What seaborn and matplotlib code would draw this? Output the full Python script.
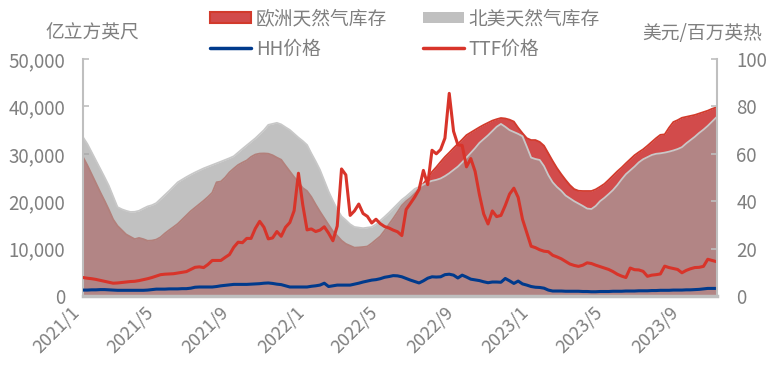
import numpy as np
import pandas as pd
import matplotlib
matplotlib.use('Agg')
import matplotlib.pyplot as plt
from matplotlib.patches import Patch
from matplotlib.lines import Line2D
from matplotlib.ticker import FuncFormatter
from matplotlib.transforms import ScaledTranslation
import seaborn as sns

# weekly data, 2021/1 - 2023/10
start_date = '2021-01-01'

# 欧洲天然气库存 (亿立方英尺)
eu_storage = [29300, 27600, 25700, 23800, 21900, 20100, 18200, 16150, 14800, 13900,
              13000, 12500, 12000, 12250, 12000, 11650, 11700, 11900, 12400, 13200,
              13900, 14550, 15230, 16130, 17050, 17900, 18640, 19360, 20100, 20900,
              21800, 24000, 24150, 25000, 26100, 26900, 27650, 28150, 28600, 29350,
              29850, 30050, 30080, 30020, 29700, 29200, 28750, 27500, 26300, 25100,
              24000, 22800, 22150, 20900, 19300, 17800, 16400, 15000, 13650, 12700,
              11700, 11000, 10600, 10200, 10250, 10330, 10450, 11100, 11850, 12600,
              13800, 15100, 16350, 17700, 19100, 20000, 20700, 21600, 22500, 23700,
              24900, 26200, 27200, 28300, 29350, 30250, 31200, 32100, 33000, 33950,
              34500, 35050, 35600, 36100, 36550, 37000, 37300, 37550, 37450, 37200,
              36800, 35500, 34350, 33300, 32900, 32900, 32500, 31700, 30100, 28500,
              27000, 25700, 24500, 23400, 22550, 22200, 22150, 22150, 22150, 22500,
              23050, 23650, 24500, 25400, 26300, 27100, 28000, 28850, 29700, 30350,
              30950, 31700, 32500, 33300, 34000, 34100, 35500, 36700, 37100, 37600,
              37800, 38000, 38200, 38500, 38800, 39100, 39500, 39800]

# 北美天然气库存 (亿立方英尺)
na_storage = [33500, 32100, 30350, 28600, 26900, 25070, 23250, 21000, 18760, 18300,
              17980, 17730, 17760, 17980, 18460, 18900, 19160, 19600, 20450, 21300,
              22170, 23100, 24000, 24560, 25100, 25600, 26070, 26500, 26930, 27280,
              27640, 28000, 28350, 28720, 29080, 29490, 30270, 31040, 31790, 32530,
              33270, 34130, 35000, 36100, 36320, 36530, 36200, 35600, 35030, 34240,
              33420, 32700, 31860, 30070, 28400, 26600, 24320, 22040, 20080, 18280,
              16800, 16000, 15130, 14560, 14430, 14300, 14420, 14550, 15100, 15900,
              16710, 17560, 18480, 19400, 20300, 21000, 21800, 22600, 23000, 23500,
              24000, 24300, 24500, 24800, 25300, 25900, 26600, 27300, 28200, 29200,
              30200, 31200, 32300, 33100, 33900, 34800, 35700, 36300, 35700, 35000,
              34600, 34200, 33700, 31500, 29200, 28900, 28700, 27400, 25500, 24000,
              23000, 22200, 21200, 20600, 20000, 19500, 19000, 18450, 18350, 19000,
              20000, 20700, 21500, 22350, 23400, 24600, 25700, 26500, 27300, 28200,
              28850, 29300, 29750, 30000, 30100, 30250, 30450, 30700, 31000, 31400,
              32200, 32900, 33600, 34400, 35100, 35900, 36800, 37700]

# TTF价格 (美元/百万英热)
ttf_price = [7.8, 7.5, 7.3, 7.0, 6.6, 6.2, 5.8, 5.4, 5.5, 5.7,
             5.9, 6.1, 6.2, 6.5, 6.9, 7.3, 7.8, 8.4, 9.0, 9.2,
             9.3, 9.4, 9.7, 10.0, 10.3, 11.2, 12.1, 12.3, 12.0, 13.3,
             15.0, 15.0, 15.0, 16.3, 17.5, 20.6, 22.7, 22.5, 24.3, 24.3,
             28.5, 31.5, 29.0, 24.1, 24.5, 27.2, 25.2, 29.0, 31.0, 36.0,
             51.8, 38.5, 27.9, 28.3, 27.2, 27.8, 29.2, 26.5, 23.3, 29.5,
             53.6, 51.1, 34.0, 35.9, 38.8, 34.8, 33.6, 30.8, 32.4, 30.5,
             29.3, 28.7, 27.8, 27.1, 25.5, 36.5, 39.1, 41.8, 45.0, 53.0,
             47.0, 61.5, 60.0, 61.8, 66.6, 85.5, 69.5, 63.8, 63.5, 54.5,
             58.0, 52.6, 42.8, 34.6, 30.4, 35.9, 33.5, 34.0, 38.2, 43.0,
             45.5, 41.6, 32.4, 26.7, 21.0, 20.4, 19.5, 18.9, 18.7, 17.2,
             16.5, 15.7, 14.6, 13.5, 12.9, 12.5, 13.0, 14.0, 13.7, 13.0,
             12.4, 11.8, 11.2, 10.3, 9.2, 8.4, 7.8, 11.8, 11.1, 11.0,
             10.4, 8.3, 8.8, 9.0, 9.3, 12.6, 12.0, 11.6, 11.2, 9.8,
             10.8, 11.5, 12.0, 12.1, 12.5, 15.5, 15.0, 14.5]

# HH价格 (美元/百万英热)
hh_price = [2.5, 2.5, 2.6, 2.6, 2.7, 2.7, 2.6, 2.5, 2.4, 2.4,
            2.4, 2.4, 2.4, 2.4, 2.4, 2.5, 2.7, 2.9, 2.9, 2.9,
            3.0, 3.0, 3.0, 3.1, 3.1, 3.3, 3.7, 3.8, 3.8, 3.8,
            3.8, 4.0, 4.3, 4.5, 4.7, 4.9, 4.9, 4.9, 4.9, 5.0,
            5.1, 5.2, 5.4, 5.5, 5.3, 5.0, 4.8, 4.3, 3.8, 3.8,
            3.8, 3.8, 3.8, 4.1, 4.3, 4.6, 5.4, 4.0, 4.3, 4.6,
            4.6, 4.6, 4.6, 5.0, 5.4, 5.9, 6.3, 6.7, 6.9, 7.3,
            7.9, 8.2, 8.6, 8.5, 8.1, 7.4, 6.7, 6.1, 5.5, 6.4,
            7.5, 8.1, 8.0, 8.1, 9.0, 9.2, 8.8, 7.6, 8.8, 8.0,
            7.1, 6.8, 6.5, 6.0, 5.6, 5.9, 5.9, 5.8, 7.4, 6.4,
            5.3, 6.3, 5.1, 4.6, 4.0, 3.7, 3.6, 3.3, 2.5, 2.1,
            2.1, 2.1, 2.0, 2.0, 2.0, 2.0, 1.9, 1.9, 1.8, 1.8,
            1.9, 1.9, 1.9, 2.0, 2.0, 2.0, 2.1, 2.1, 2.1, 2.2,
            2.2, 2.2, 2.3, 2.3, 2.4, 2.4, 2.4, 2.5, 2.5, 2.5,
            2.6, 2.6, 2.7, 2.8, 3.0, 3.2, 3.2, 3.2]

labels = ['欧洲天然气库存', 'HH价格', '北美天然气库存', 'TTF价格']

dates = pd.date_range(start_date, periods=len(eu_storage), freq='7D')
df = pd.DataFrame({'date': dates, 'eu': eu_storage, 'na': na_storage,
                   'ttf': ttf_price, 'hh': hh_price})

sns.set_style('white')
plt.rcParams['font.family'] = ['Noto Sans CJK SC', 'DejaVu Sans']

red_fill = '#d24b4b'
red_edge = '#d23a2c'
gray_fill = '#a3a3a3'
ttf_color = '#d8342a'
hh_color = '#003a8c'
txt_color = '#7f7f7f'
axis_color = '#bfbfbf'

fig, ax = plt.subplots(figsize=(7.83, 3.87), dpi=100)
fig.subplots_adjust(left=83/783, right=717/783, top=1-59/387, bottom=1-296/387)

# storage areas
ax.fill_between(df['date'], df['eu'], color=red_fill, lw=0, zorder=1)
sns.lineplot(data=df, x='date', y='eu', ax=ax, color=red_edge, lw=1.3, zorder=1.5)
ax.fill_between(df['date'], df['na'], color=gray_fill, alpha=0.67, lw=0, zorder=2)
sns.lineplot(data=df, x='date', y='na', ax=ax, color='#c8c8c8', lw=1.3, zorder=2.5)

ax.set_ylim(0, 50000)
ax.set_xlim(pd.Timestamp('2021-01-01'), pd.Timestamp('2023-10-28'))
ax.set_xlabel('')
ax.set_ylabel('')
ax.yaxis.set_major_formatter(FuncFormatter(lambda v, p: f'{v:,.0f}'))

ticks = pd.date_range('2021-01-01', '2023-09-01', freq='4MS')
ax.set_xticks(ticks)
ax.set_xticklabels([f'{d.year}/{d.month}' for d in ticks], rotation=45,
                   ha='right', va='top')
shift = ScaledTranslation(5/100, -3/100, fig.dpi_scale_trans)
for lab in ax.get_xticklabels():
    lab.set_transform(lab.get_transform() + shift)

# prices on right axis
ax2 = ax.twinx()
sns.lineplot(data=df, x='date', y='hh', ax=ax2, color=hh_color, lw=2.2)
sns.lineplot(data=df, x='date', y='ttf', ax=ax2, color=ttf_color, lw=2.2)
ax2.set_ylim(0, 100)
ax2.set_yticks(range(0, 101, 20))
ax2.set_xlabel('')
ax2.set_ylabel('')
ax2.set_xlim(ax.get_xlim())

for a in (ax, ax2):
    for s in a.spines.values():
        s.set_color(axis_color)
    a.spines['top'].set_visible(False)
ax.spines['right'].set_visible(False)
ax2.spines['left'].set_visible(False)
ax2.spines['bottom'].set_visible(False)
ax.spines['left'].set_linewidth(1.5)
ax2.spines['right'].set_linewidth(1.5)
ax.spines['bottom'].set_linewidth(2.5)

ax.tick_params(axis='y', direction='in', length=4, width=1.2, color=axis_color,
               labelcolor=txt_color, labelsize=13.5, pad=13)
ax.tick_params(axis='x', direction='in', length=5, width=1.2, color=axis_color,
               labelcolor=txt_color, labelsize=13, pad=5)
ax2.tick_params(axis='y', direction='in', length=4, width=1.2, color=axis_color,
                labelcolor=txt_color, labelsize=13.5, pad=14)

fig.text(92/783, 1-33/387, '亿立方英尺', ha='center', va='center',
         fontsize=13.5, color=txt_color)
fig.text(702/783, 1-33/387, '美元/百万英热', ha='center', va='center',
         fontsize=13.5, color=txt_color)

handles = [Patch(facecolor=red_fill, edgecolor=red_edge, lw=1.5),
           Line2D([], [], color=hh_color, lw=2.5),
           Patch(facecolor='#c0c0c0', edgecolor='none'),
           Line2D([], [], color=ttf_color, lw=2.5)]
fig.legend(handles, labels, ncol=2, loc='upper left',
           bbox_to_anchor=(210/783, 1-8/387), frameon=False, fontsize=13.5,
           labelcolor=txt_color, handlelength=2.2, handleheight=0.55,
           handletextpad=0.25, columnspacing=1.9, labelspacing=0.5,
           borderpad=0, borderaxespad=0)

fig.savefig('out.png', dpi=100)
